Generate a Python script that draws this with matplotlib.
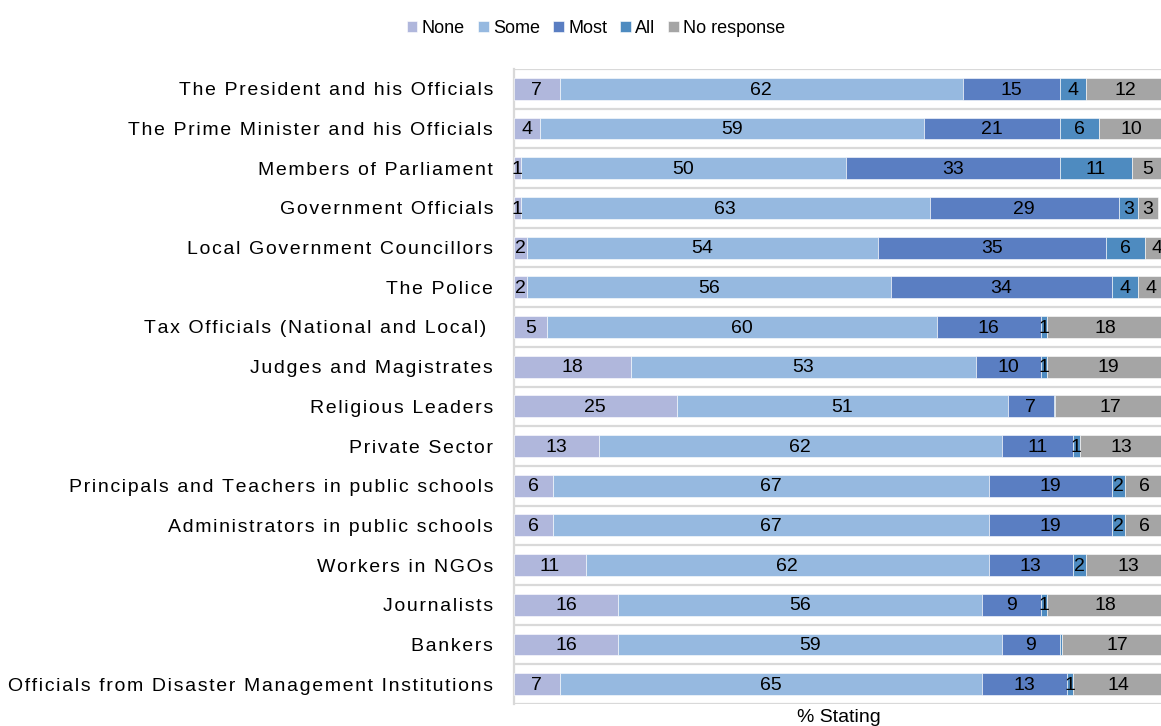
# Trust in public officials - 100% stacked horizontal bars
import matplotlib
matplotlib.use('Agg')
import matplotlib.pyplot as plt
import numpy as np

# Data
categories = ['The President and his Officials',
              'The Prime Minister and his Officials',
              'Members of Parliament',
              'Government Officials',
              'Local Government Councillors',
              'The Police',
              'Tax Officials (National and Local) ',
              'Judges and Magistrates',
              'Religious Leaders',
              'Private Sector',
              'Principals and Teachers in public schools',
              'Administrators in public schools',
              'Workers in NGOs',
              'Journalists',
              'Bankers',
              'Officials from Disaster Management Institutions']
none = [7, 4, 1, 1, 2, 2, 5, 18, 25, 13, 6, 6, 11, 16, 16, 7]
some = [62, 59, 50, 63, 54, 56, 60, 53, 51, 62, 67, 67, 62, 56, 59, 65]
most = [15, 21, 33, 29, 35, 34, 16, 10, 7, 11, 19, 19, 13, 9, 9, 13]
all_ = [4, 6, 11, 3, 6, 4, 1, 1, 0.3, 1, 2, 2, 2, 1, 0.3, 1]
no_response = [12, 10, 5, 3, 4, 4, 18, 19, 17, 13, 6, 6, 13, 18, 17, 14]

series = [('None', none, '#b0b7dc'),
          ('Some', some, '#96b9e0'),
          ('Most', most, '#5a7ec2'),
          ('All', all_, '#4e8bc0'),
          ('No response', no_response, '#a5a5a5')]

plt.rcParams['font.family'] = ['Liberation Sans', 'DejaVu Sans']

fig = plt.figure(figsize=(11.61, 7.26), dpi=100)
ax = fig.add_axes([514 / 1161, 22 / 726, 650 / 1161, 635 / 726])

y = np.arange(len(categories))
left = np.zeros(len(categories))
for name, vals, color in series:
    vals = np.array(vals, dtype=float)
    ax.barh(y, vals, left=left, height=0.55, color=color, label=name,
            edgecolor='white', linewidth=0.4, zorder=3)
    for yi, (l, v) in enumerate(zip(left, vals)):
        if v >= 0.5:
            ax.text(l + v / 2, yi + 0.03, '%d' % round(v), ha='center',
                    va='center', fontsize=14, color='black', zorder=4)
    left += vals

# row separators
for b in np.arange(-0.5, len(categories), 1.0):
    ax.axhline(b, color='#d9d9d9', lw=1.6, zorder=1)

ax.set_xlim(0, 100)
ax.set_ylim(len(categories) - 0.5, -0.5)
ax.set_xticks([])
ax.set_yticks(y)
# letter-spaced category names
ax.set_yticklabels(['\u200a'.join(c) for c in categories], fontsize=14)
ax.tick_params(axis='y', length=0, pad=15)
for s in ['top', 'right', 'bottom']:
    ax.spines[s].set_visible(False)
ax.spines['left'].set_color('#d9d9d9')
ax.spines['left'].set_linewidth(1.6)

fig.text(839 / 1161, 1 - 718 / 726, '% Stating', ha='center', va='center',
         fontsize=14)

fig.legend(loc='center', bbox_to_anchor=(596 / 1161, 1 - 28.5 / 726), ncol=5,
           frameon=False, fontsize=13, handlelength=0.6, handleheight=0.6,
           handletextpad=0.25, columnspacing=0.7)

fig.savefig('out.png', dpi=100)
